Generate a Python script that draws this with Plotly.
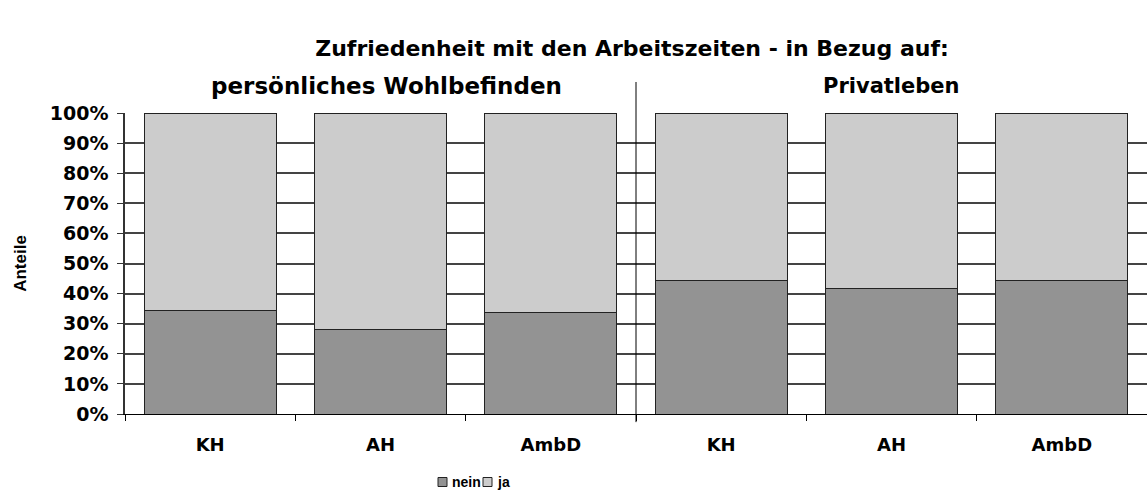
import plotly.graph_objects as go

# Zufriedenheit mit den Arbeitszeiten: Anteile "nein" / "ja" je Einrichtungsart
categories = ["KH", "AH", "AmbD", "KH", "AH", "AmbD"]
groups = ["persönliches Wohlbefinden", "Privatleben"]
nein = [0.345, 0.282, 0.337, 0.443, 0.418, 0.443]
ja = [1 - v for v in nein]

FONT = "DejaVu Sans"
xpos = list(range(len(categories)))

# plot-area geometry in pixels (used to place the key below the axis)
W, H = 1147, 495
ML, MR, MT, MB = 125, 0, 113, 81
PW, PH = W - ML - MR, H - MT - MB

series = [("nein", nein, "#939393"), ("ja", ja, "#cccccc")]

fig = go.Figure()
for name, vals, col in series:
    fig.add_trace(go.Bar(
        x=xpos, y=vals, name=name, width=0.775, showlegend=False,
        marker=dict(color=col, line=dict(color="#222222", width=1)),
    ))

# compact key: small square followed by the series name
key_x = 438
key_y = 482
sq = 9
for name, _, col in series:
    fig.add_shape(
        type="rect", xref="paper", yref="paper",
        x0=(key_x - ML) / PW, x1=(key_x + sq - ML) / PW,
        y0=(H - MB - (key_y + sq / 2)) / PH, y1=(H - MB - (key_y - sq / 2)) / PH,
        fillcolor=col, line=dict(color="#222222", width=1),
    )
    fig.add_annotation(
        x=(key_x + sq + 3 - ML) / PW, y=(H - MB - key_y) / PH,
        xref="paper", yref="paper", text=name, showarrow=False,
        xanchor="left", yanchor="middle",
        font=dict(family="Liberation Sans", size=14, color="black", weight="bold"),
    )
    key_x += sq + 3 + (30 if name == "nein" else 12) + 3

# group captions over each half of the chart
for i, (g, shift) in enumerate(zip(groups, [6, 0])):
    fig.add_annotation(
        x=1 + 3 * i, y=1.09, xref="x", yref="paper", text=g, showarrow=False,
        xshift=shift,
        font=dict(family=FONT, size=23 if i == 0 else 21, color="black", weight="bold"),
        xanchor="center", yanchor="middle",
    )

# divider between the two groups
fig.add_shape(
    type="line", xref="x", yref="paper", x0=2.5, x1=2.5, y0=-0.027, y1=1.103,
    line=dict(color="black", width=1),
)

fig.update_layout(
    width=W, height=H,
    margin=dict(l=ML, r=MR, t=MT, b=MB),
    paper_bgcolor="white", plot_bgcolor="white",
    barmode="stack",
    showlegend=False,
    title=dict(
        text="Zufriedenheit mit den Arbeitszeiten - in Bezug auf:",
        x=0.551, xref="container", xanchor="center",
        y=0.903, yref="container", yanchor="middle",
        font=dict(family=FONT, size=22, color="black", weight="bold"),
    ),
    xaxis=dict(
        range=[-0.5, 5.5], tickmode="array", tickvals=xpos, ticktext=categories,
        ticks="", showgrid=False, zeroline=False,
        showline=True, linecolor="black", linewidth=1,
        ticklabelstandoff=14,
        tickfont=dict(family=FONT, size=18, color="black", weight="bold"),
        minor=dict(tick0=-0.5, dtick=1, ticks="outside", ticklen=6,
                   tickcolor="black", showgrid=False),
    ),
    yaxis=dict(
        range=[0, 1], dtick=0.1, tickformat=".0%",
        ticks="outside", ticklen=6, tickcolor="#333333",
        showline=True, linecolor="#333333", linewidth=1.5,
        showgrid=True, gridcolor="#444444", gridwidth=1.5, zeroline=False,
        ticklabelstandoff=5,
        tickfont=dict(family=FONT, size=19, color="black", weight="bold"),
        title=dict(text="Anteile", standoff=19,
                   font=dict(family="Liberation Sans", size=17, color="black",
                             weight="bold")),
    ),
)

fig.write_html("out.html")
